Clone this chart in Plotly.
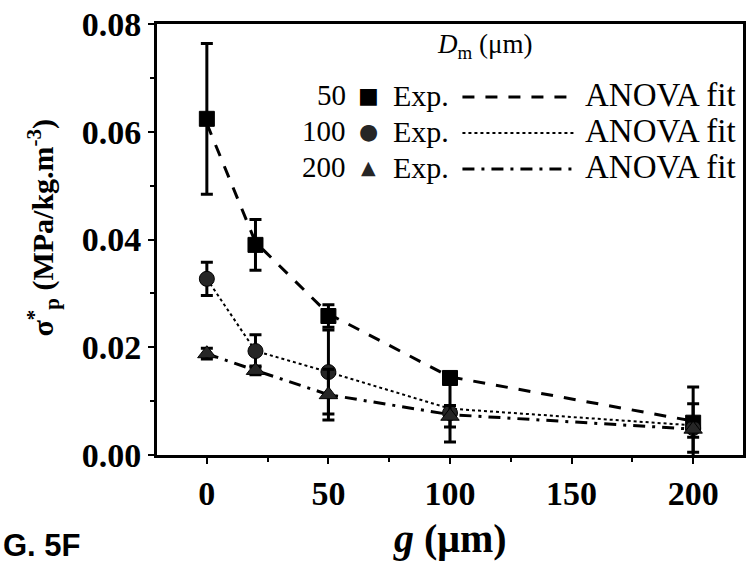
import plotly.graph_objects as go

# gap size g (um)
g_um = [0, 20, 50, 100, 200]

# specific plateau stress, experimental means and error bars, by D_m
exp_50 = [0.0624, 0.0390, 0.0258, 0.0143, 0.0060]
err_50 = [0.0140, 0.0047, 0.0021, 0.0008, 0.0066]
exp_100 = [0.0327, 0.0193, 0.0154, 0.0078, 0.0050]
err_100 = [0.0031, 0.0030, 0.0078, 0.0054, 0.0045]
exp_200 = [0.0188, 0.0157, 0.0112, 0.0072, 0.0048]
err_200 = [0.0010, 0.0008, 0.0047, 0.0020, 0.0015]

# ANOVA model predictions at the same gap sizes
fit_50 = [0.0615, 0.0395, 0.0262, 0.0145, 0.0063]
fit_100 = [0.0327, 0.0193, 0.0154, 0.0086, 0.0055]
fit_200 = [0.0188, 0.0157, 0.0112, 0.0075, 0.0048]

d_labels = ["50", "100", "200"]
x_ticks = [0, 50, 100, 150, 200]
y_ticks = [0.00, 0.02, 0.04, 0.06, 0.08]

SERIF = "Liberation Serif"
W, H = 748, 565
L, R, T, B = 157, 2, 24, 110
PW, PH = W - L - R, H - T - B


def px(xp):
    return (xp - L) / PW


def py(yp):
    return (H - B - yp) / PH


fig = go.Figure()

fit_styles = [
    (fit_50, "12px,11px", 3),
    (fit_100, "dot", 2),
    (fit_200, "12px,7px,3px,7px", 3),
]
for vals, dash, w in fit_styles:
    fig.add_trace(go.Scatter(
        x=g_um, y=vals, mode="lines",
        line=dict(color="black", width=w, dash=dash),
        showlegend=False, hoverinfo="skip",
    ))

exp_styles = [
    (exp_50, err_50, "square", 15, "black"),
    (exp_100, err_100, "circle", 15, "#262626"),
    (exp_200, err_200, "triangle-up", 16, "#262626"),
]
for vals, errs, sym, size, col in exp_styles:
    fig.add_trace(go.Scatter(
        x=g_um, y=vals, mode="markers",
        marker=dict(symbol=sym, size=size, color=col,
                    line=dict(color="black", width=1)),
        error_y=dict(type="data", array=errs, visible=True,
                     color="black", thickness=3, width=6),
        showlegend=False,
    ))

annotations = []
shapes = []

# legend block
annotations.append(dict(
    x=px(486), y=py(46), xref="paper", yref="paper",
    text="<i>D</i><sub>m</sub> (μm)", showarrow=False,
    font=dict(family=SERIF, size=27, color="black"),
    xanchor="center", yanchor="middle",
))
row_y = [95, 131, 167]
glyphs = [("■", 22, "black"), ("●", 22, "#262626"), ("▲", 19, "#262626")]
sample_dash = [("12px,11px", 3), ("dot", 2), ("12px,7px,3px,7px", 3)]
for i, yy in enumerate(row_y):
    annotations.append(dict(
        x=px(349), y=py(yy), xref="paper", yref="paper",
        text=d_labels[i], showarrow=False,
        font=dict(family=SERIF, size=29, color="black"),
        xanchor="right", yanchor="middle",
    ))
    g, gs, gc = glyphs[i]
    annotations.append(dict(
        x=px(370), y=py(yy), xref="paper", yref="paper",
        text=g, showarrow=False,
        font=dict(family="DejaVu Sans", size=gs, color=gc),
        xanchor="center", yanchor="middle",
    ))
    annotations.append(dict(
        x=px(392), y=py(yy), xref="paper", yref="paper",
        text="Exp.", showarrow=False,
        font=dict(family=SERIF, size=30, color="black"),
        xanchor="left", yanchor="middle",
    ))
    annotations.append(dict(
        x=px(741), y=py(yy), xref="paper", yref="paper",
        text="ANOVA fit", showarrow=False,
        font=dict(family=SERIF, size=33, color="black"),
        xanchor="right", yanchor="middle",
    ))
    d, lw = sample_dash[i]
    shapes.append(dict(
        type="line", xref="paper", yref="paper",
        x0=px(464), x1=px(578), y0=py(yy + 2), y1=py(yy + 2),
        line=dict(color="black", width=lw, dash=d),
    ))

# axis titles
annotations.append(dict(
    x=px(42), y=py(228), xref="paper", yref="paper",
    text="<b>σ<sup>*</sup><sub>p</sub> (MPa/kg.m<sup>-3</sup>)</b>",
    textangle=-90, showarrow=False,
    font=dict(family=SERIF, size=30, color="black"),
    xanchor="center", yanchor="middle",
))
annotations.append(dict(
    x=px(452), y=py(538), xref="paper", yref="paper",
    text="<b><i>g</i> (μm)</b>", showarrow=False,
    font=dict(family=SERIF, size=40, color="black"),
    xanchor="center", yanchor="middle",
))
annotations.append(dict(
    x=px(0), y=py(545), xref="paper", yref="paper",
    text="<b>G. 5F</b>", showarrow=False,
    font=dict(family="Liberation Sans", size=31, color="black"),
    xanchor="left", yanchor="middle",
))

fig.update_layout(
    width=W, height=H,
    margin=dict(l=L, r=R, t=T, b=B),
    paper_bgcolor="white", plot_bgcolor="white",
    annotations=annotations, shapes=shapes,
    font=dict(family=SERIF, color="black"),
)
fig.update_xaxes(
    range=[-20.5, 220.5], tickvals=x_ticks,
    ticktext=[f"<b>{v}</b>" for v in x_ticks],
    tickfont=dict(family=SERIF, size=34, color="black"),
    showgrid=False, zeroline=False,
    showline=True, linecolor="black", linewidth=3, mirror=True,
    ticks="outside", ticklen=6, tickwidth=2, tickcolor="black",
    minor=dict(tickvals=[25, 75, 125, 175], ticks="outside",
               ticklen=4, tickwidth=2, tickcolor="black"),
)
fig.update_yaxes(
    range=[0, 0.08], tickvals=y_ticks,
    ticktext=[f"<b>{v:.2f}</b>" for v in y_ticks],
    tickfont=dict(family=SERIF, size=34, color="black"),
    showgrid=False, zeroline=False,
    showline=True, linecolor="black", linewidth=3, mirror=True,
    ticks="outside", ticklen=6, tickwidth=2, tickcolor="black",
    minor=dict(tickvals=[0.01, 0.03, 0.05, 0.07], ticks="outside",
               ticklen=4, tickwidth=2, tickcolor="black"),
)

fig.write_html("out.html")
